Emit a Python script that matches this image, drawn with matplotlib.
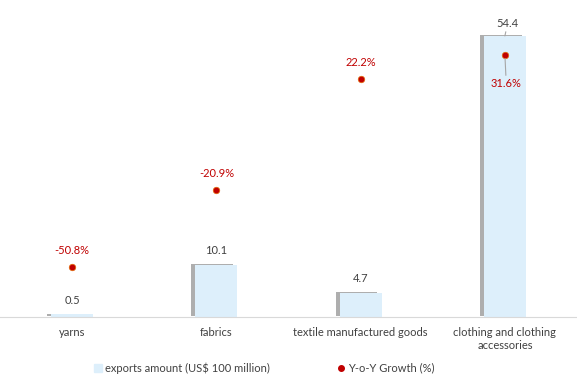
import matplotlib.pyplot as plt
import matplotlib.patheffects as pe
import numpy as np

plt.rcParams['font.family'] = ['Lato', 'DejaVu Sans']

# data
categories = ['yarns', 'fabrics', 'textile manufactured goods',
              'clothing and clothing\naccessories']
exports = [0.5, 10.1, 4.7, 54.4]
growth = [-50.8, -20.9, 22.2, 31.6]

bar_color = '#DDEFFB'
dot_color = '#C00000'
text_color = '#404040'

fig = plt.figure(figsize=(5.77, 3.85), dpi=100)
ax = fig.add_axes([0, 68 / 385, 1, 310 / 385])
ax2 = ax.twinx()

x = np.arange(len(categories))
bars = ax.bar(x, exports, width=0.29, color=bar_color, zorder=2)
for b in bars:
    b.set_path_effects([pe.SimplePatchShadow(offset=(-3, 0.5), shadow_rgbFace='#8C8C8C', alpha=0.7),
                        pe.Normal()])

ax.set_xlim(-0.5, 3.5)
ax.set_ylim(0, 60)
ax2.set_ylim(-70, 50)

for side in ['top', 'left', 'right']:
    ax.spines[side].set_visible(False)
    ax2.spines[side].set_visible(False)
ax.spines['bottom'].set_color('#D9D9D9')
ax2.spines['bottom'].set_visible(False)
ax.set_yticks([])
ax2.set_yticks([])
ax.set_xticks(x)
ax.set_xticklabels(categories, fontsize=8, color=text_color, linespacing=1.3)
ax.tick_params(axis='x', length=0, pad=7)

# bar labels
for i, v in enumerate(exports):
    if i == 3:
        ax.annotate(f'{v}', xy=(i, v), xytext=(2, 5), textcoords='offset points',
                    ha='center', va='bottom', fontsize=8, color=text_color,
                    arrowprops=dict(arrowstyle='-', color='#A6A6A6', lw=0.8,
                                    shrinkA=0, shrinkB=0))
    else:
        ax.annotate(f'{v}', xy=(i, v), xytext=(0, 6), textcoords='offset points',
                    ha='center', va='bottom', fontsize=8, color=text_color)

ax2.scatter(x, growth, s=22, color=dot_color, edgecolor='#E46C0A', linewidth=0.5, zorder=3)
for i, g in enumerate(growth):
    if i == 3:
        ax2.annotate(f'{g}%', xy=(i, g), xytext=(1, -17), textcoords='offset points',
                     ha='center', va='top', fontsize=8, color=dot_color,
                     arrowprops=dict(arrowstyle='-', color='#A6A6A6', lw=0.8,
                                     shrinkA=0, shrinkB=3))
    else:
        ax2.annotate(f'{g}%', xy=(i, g), xytext=(0, 8), textcoords='offset points',
                     ha='center', va='bottom', fontsize=8, color=dot_color)

# legend
h1 = plt.Rectangle((0, 0), 1, 1, color=bar_color)
h2 = plt.Line2D([], [], marker='o', linestyle='', color=dot_color, markersize=4)
fig.legend([h1, h2], ['exports amount (US$ 100 million)', 'Y-o-Y Growth (%)'],
           loc='center', bbox_to_anchor=(0.458, 17 / 385), ncol=2, frameon=False,
           fontsize=8, labelcolor=text_color, handlelength=0.7, handletextpad=0.3,
           columnspacing=6)

fig.savefig('out.png', dpi=100)
